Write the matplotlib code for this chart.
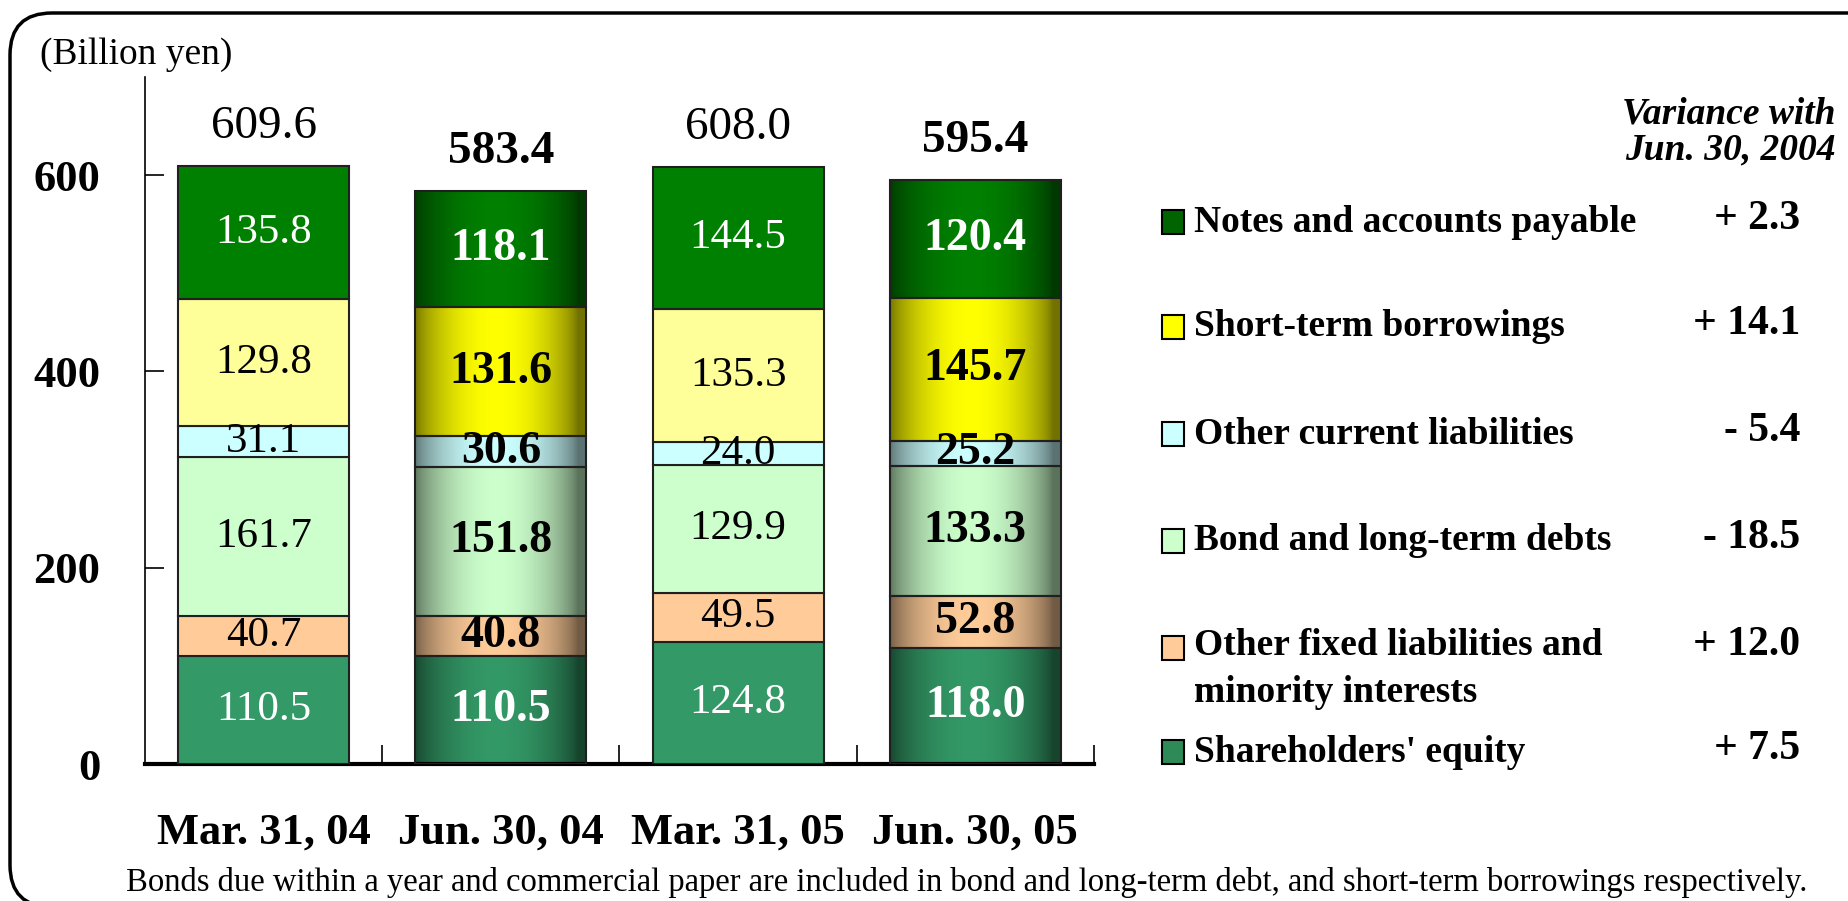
import numpy as np
import matplotlib
matplotlib.use('Agg')
import matplotlib.pyplot as plt
from matplotlib.patches import Rectangle, FancyBboxPatch
from matplotlib.colors import to_rgb
from matplotlib.transforms import IdentityTransform

plt.rcParams['font.family'] = ['Liberation Serif', 'DejaVu Serif']

dates = ['Mar. 31, 04', 'Jun. 30, 04', 'Mar. 31, 05', 'Jun. 30, 05']
items = ['Shareholders\' equity', 'Other fixed liabilities and\nminority interests',
         'Bond and long-term debts', 'Other current liabilities',
         'Short-term borrowings', 'Notes and accounts payable']
equity = [110.5, 110.5, 124.8, 118.0]
other_fixed = [40.7, 40.8, 49.5, 52.8]
bonds = [161.7, 151.8, 129.9, 133.3]
other_current = [31.1, 30.6, 24.0, 25.2]
short_term = [129.8, 131.6, 135.3, 145.7]
notes = [135.8, 118.1, 144.5, 120.4]
totals = [609.6, 583.4, 608.0, 595.4]
variance = ['+ 7.5', '+ 12.0', '- 18.5', '- 5.4', '+ 14.1', '+ 2.3']

series = [equity, other_fixed, bonds, other_current, short_term, notes]
colors = ['#339966', '#FFCC99', '#CCFFCC', '#CCFFFF', '#FFFF99', '#008000']
grad_colors = ['#339966', '#FFCC99', '#CCFFCC', '#CCFFFF', '#FFFF00', '#008000']
legend_colors = ['#2E8B57', '#FFCC99', '#CCFFCC', '#CCFFFF', '#FFFF00', '#006400']
text_colors = ['white', 'black', 'black', 'black', 'black', 'white']
gradient_cols = [1, 3]   # the Jun. columns are shaded

W, H = 1849, 901
fig = plt.figure(figsize=(W / 100, H / 100), dpi=100)
ax = fig.add_axes([145 / W, 1 - 764 / H, (1094 - 145) / W, (764 - 77) / H])

x = np.arange(len(dates))
width = 0.72
t = np.linspace(0, 1, 200)
prof = np.sin(np.pi * np.clip(t * 1.05, 0, 1)) ** 0.7

bottom = np.zeros(len(dates))
for s, vals in enumerate(series):
    vals = np.array(vals)
    for i in range(len(dates)):
        if i in gradient_cols:
            rect = ax.bar(x[i], vals[i], width, bottom=bottom[i], color='none',
                          edgecolor='#202020', linewidth=1.5, zorder=3)[0]
            c = np.array(to_rgb(grad_colors[s]))
            edge = c * 0.45
            img = edge[None, :] + (c - edge)[None, :] * prof[:, None]
            im = ax.imshow(img[None, :, :], extent=(rect.get_x(), rect.get_x() + rect.get_width(),
                                                    rect.get_y(), rect.get_y() + rect.get_height()),
                           aspect='auto', zorder=2, interpolation='bilinear')
            im.set_clip_path(rect)
            ax.text(x[i], bottom[i] + vals[i] / 2, f'{vals[i]:.1f}', ha='center', va='center',
                    fontsize=33, color=text_colors[s], fontweight='bold', zorder=4)
        else:
            ax.bar(x[i], vals[i], width, bottom=bottom[i], color=colors[s],
                   edgecolor='#202020', linewidth=1.5, zorder=3)
            ax.text(x[i], bottom[i] + vals[i] / 2, f'{vals[i]:.1f}', ha='center', va='center',
                    fontsize=31, color=text_colors[s], zorder=4)
    bottom += vals

for i, tot in enumerate(totals):
    ax.annotate(f'{tot:.1f}', (x[i], tot), xytext=(0, 13), textcoords='offset points',
                ha='center', va='bottom', fontsize=34,
                fontweight='bold' if i in gradient_cols else 'normal')

ax.set_xlim(-0.5, 3.5)
ax.set_ylim(0, 700)
ax.set_yticks([0, 200, 400, 600])
ax.set_yticklabels(['0', '200', '400', '600'], fontsize=32, fontweight='bold')
ax.tick_params(axis='y', direction='in', length=14, width=1.2, pad=32)
ax.set_xticks([0.5, 1.5, 2.5, 3.5])
ax.set_xticklabels([])
ax.tick_params(axis='x', which='major', direction='in', length=14, width=1.2)
ax.set_xticks(x, minor=True)
ax.set_xticklabels(dates, minor=True, fontsize=32, fontweight='bold')
ax.tick_params(axis='x', which='minor', length=0, pad=35)
for sp in ['top', 'right']:
    ax.spines[sp].set_visible(False)
ax.spines['left'].set_linewidth(1.2)
ax.spines['bottom'].set_linewidth(3)

fig.text(40 / W, 1 - 55 / H, '(Billion yen)', fontsize=27, ha='left', va='center')

# legend + variance column
fig.text(1836 / W, 1 - 114 / H, 'Variance with', fontsize=27, fontweight='bold',
         fontstyle='italic', ha='right', va='center')
fig.text(1836 / W, 1 - 150 / H, 'Jun. 30, 2004', fontsize=27, fontweight='bold',
         fontstyle='italic', ha='right', va='center')
row_y = [752, 648, 541, 434, 327, 222]
for s in range(len(items)):
    yy = row_y[s]
    fig.patches.append(Rectangle((1162 / W, 1 - (yy + 12) / H), 22 / W, 24 / H,
                                 transform=fig.transFigure, facecolor=legend_colors[s],
                                 edgecolor='black', linewidth=1.5))
    if '\n' in items[s]:
        fig.text(1194 / W, 1 - (yy - 20) / H, items[s], fontsize=27, fontweight='bold',
                 ha='left', va='top', linespacing=1.45)
    else:
        fig.text(1194 / W, 1 - yy / H, items[s], fontsize=27, fontweight='bold',
                 ha='left', va='center')
    fig.text(1800 / W, 1 - (yy - 3) / H, variance[s], fontsize=30, fontweight='bold',
             ha='right', va='center')

fig.text(967 / W, 1 - 883 / H, 'Bonds due within a year and commercial paper are included in bond '
         'and long-term debt, and short-term borrowings respectively.',
         fontsize=23.5, ha='center', va='center')

frame = FancyBboxPatch((10, -6), 1950, 888 + 6, boxstyle='round,pad=0,rounding_size=42',
                       transform=IdentityTransform(), facecolor='none',
                       edgecolor='black', linewidth=2.5)
fig.patches.append(frame)

fig.savefig('out.png', dpi=100)
